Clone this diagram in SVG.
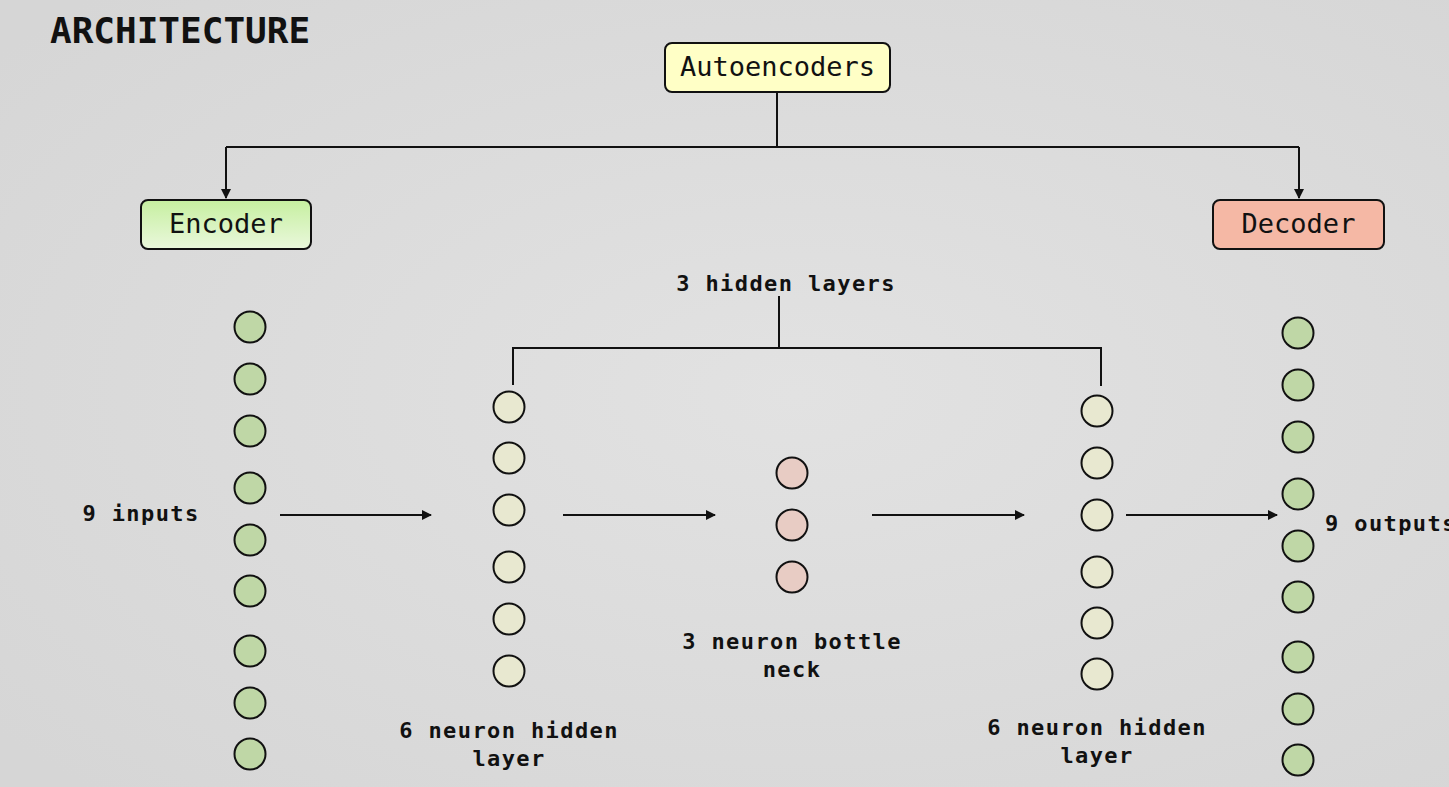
<svg xmlns="http://www.w3.org/2000/svg" width="1449" height="787" viewBox="0 0 1449 787">
  <defs>
    <linearGradient id="encGrad" x1="0" y1="0" x2="0" y2="1">
      <stop offset="0" stop-color="#C6EFA0"/>
      <stop offset="1" stop-color="#EAF8DC"/>
    </linearGradient>
    <radialGradient id="paper1" cx="0.55" cy="0.5" r="0.7">
      <stop offset="0" stop-color="#E2E2E2"/>
      <stop offset="1" stop-color="#D6D6D6"/>
    </radialGradient>
    <marker id="arrow" viewBox="0 0 10 10" refX="9" refY="5" markerWidth="5" markerHeight="5" markerUnits="strokeWidth" orient="auto">
      <path d="M0,0 L10,5 L0,10 z" fill="#111"/>
    </marker>
    <style>
      .title { font-family: "DejaVu Sans Mono", "Liberation Mono", monospace; font-weight: bold; font-size: 36px; fill: #111; }
      .box { stroke: #111; stroke-width: 2; }
      .boxtext { font-family: "DejaVu Sans Mono", "Liberation Mono", monospace; font-size: 27px; fill: #111; text-anchor: middle; }
      .label { font-family: "DejaVu Sans Mono", "Liberation Mono", monospace; font-weight: bold; font-size: 22px; letter-spacing: 1.4px; fill: #111; text-anchor: middle; }
      .conn { stroke: #111; stroke-width: 2; fill: none; }
      .in { fill: #BFD7A6; stroke: #111; stroke-width: 2; }
      .hid { fill: #E8E8D0; stroke: #111; stroke-width: 2; }
      .neck { fill: #E8CCC4; stroke: #111; stroke-width: 2; }
    </style>
  </defs>

  <rect x="0" y="0" width="1449" height="787" fill="url(#paper1)"/>

  <text class="title" x="50" y="43">ARCHITECTURE</text>

  <g id="connectors">
    <polyline class="conn" points="777,92 777,147"/>
    <polyline class="conn" points="226,147 1299,147"/>
    <polyline class="conn" points="226,147 226,198" marker-end="url(#arrow)"/>
    <polyline class="conn" points="1299,147 1299,198" marker-end="url(#arrow)"/>
    <polyline class="conn" points="779,296 779,348"/>
    <polyline class="conn" points="513,385 513,348 1101,348 1101,386"/>
    <line class="conn" x1="280" y1="515" x2="431" y2="515" marker-end="url(#arrow)"/>
    <line class="conn" x1="563" y1="515" x2="715" y2="515" marker-end="url(#arrow)"/>
    <line class="conn" x1="872" y1="515" x2="1024" y2="515" marker-end="url(#arrow)"/>
    <line class="conn" x1="1126" y1="515" x2="1277" y2="515" marker-end="url(#arrow)"/>
  </g>

  <g id="autoencoders">
    <rect class="box" x="665" y="43" width="225" height="49" rx="7" fill="#FFFFC6"/>
    <text class="boxtext" x="777.5" y="76">Autoencoders</text>
  </g>

  <g id="encoder">
    <rect class="box" x="141" y="200" width="170" height="49" rx="7" fill="url(#encGrad)"/>
    <text class="boxtext" x="226" y="233">Encoder</text>
  </g>

  <g id="decoder">
    <rect class="box" x="1213" y="200" width="171" height="49" rx="7" fill="#F5B8A5"/>
    <text class="boxtext" x="1298.5" y="233">Decoder</text>
  </g>

  <g id="hidden-layers-label">
    <text class="label" x="786" y="291">3 hidden layers</text>
  </g>

  <g id="inputs">
    <circle class="in" cx="250" cy="327" r="15.5"/>
    <circle class="in" cx="250" cy="379" r="15.5"/>
    <circle class="in" cx="250" cy="431" r="15.5"/>
    <circle class="in" cx="250" cy="488" r="15.5"/>
    <circle class="in" cx="250" cy="540" r="15.5"/>
    <circle class="in" cx="250" cy="591" r="15.5"/>
    <circle class="in" cx="250" cy="651" r="15.5"/>
    <circle class="in" cx="250" cy="703" r="15.5"/>
    <circle class="in" cx="250" cy="754" r="15.5"/>
    <text class="label" x="141" y="521">9 inputs</text>
  </g>

  <g id="hidden1">
    <circle class="hid" cx="509" cy="407" r="15.5"/>
    <circle class="hid" cx="509" cy="458" r="15.5"/>
    <circle class="hid" cx="509" cy="510" r="15.5"/>
    <circle class="hid" cx="509" cy="567" r="15.5"/>
    <circle class="hid" cx="509" cy="619" r="15.5"/>
    <circle class="hid" cx="509" cy="671" r="15.5"/>
    <text class="label" x="509" y="738">6 neuron hidden</text>
    <text class="label" x="509" y="766">layer</text>
  </g>

  <g id="bottleneck">
    <circle class="neck" cx="792" cy="473" r="15.5"/>
    <circle class="neck" cx="792" cy="525" r="15.5"/>
    <circle class="neck" cx="792" cy="577" r="15.5"/>
    <text class="label" x="792" y="649">3 neuron bottle</text>
    <text class="label" x="792" y="677">neck</text>
  </g>

  <g id="hidden2">
    <circle class="hid" cx="1097" cy="411" r="15.5"/>
    <circle class="hid" cx="1097" cy="463" r="15.5"/>
    <circle class="hid" cx="1097" cy="515" r="15.5"/>
    <circle class="hid" cx="1097" cy="572" r="15.5"/>
    <circle class="hid" cx="1097" cy="623" r="15.5"/>
    <circle class="hid" cx="1097" cy="674" r="15.5"/>
    <text class="label" x="1097" y="735">6 neuron hidden</text>
    <text class="label" x="1097" y="763">layer</text>
  </g>

  <g id="outputs">
    <circle class="in" cx="1298" cy="333" r="15.5"/>
    <circle class="in" cx="1298" cy="385" r="15.5"/>
    <circle class="in" cx="1298" cy="437" r="15.5"/>
    <circle class="in" cx="1298" cy="494" r="15.5"/>
    <circle class="in" cx="1298" cy="546" r="15.5"/>
    <circle class="in" cx="1298" cy="597" r="15.5"/>
    <circle class="in" cx="1298" cy="657" r="15.5"/>
    <circle class="in" cx="1298" cy="709" r="15.5"/>
    <circle class="in" cx="1298" cy="760" r="15.5"/>
    <text class="label" x="1325" y="531" style="text-anchor:start">9 outputs</text>
  </g>
</svg>
